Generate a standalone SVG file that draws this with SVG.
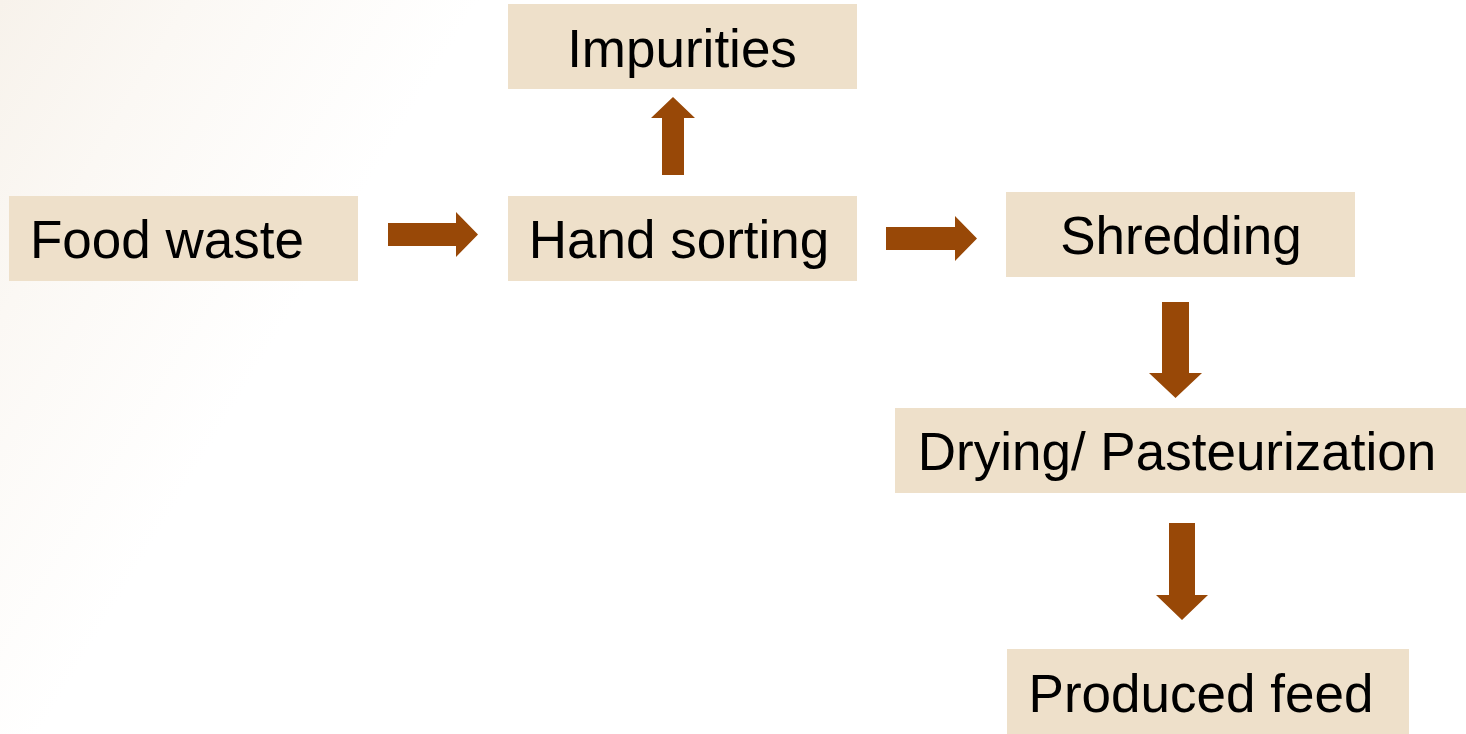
<svg xmlns="http://www.w3.org/2000/svg" width="1466" height="734" viewBox="0 0 1466 734">
  <defs>
    <linearGradient id="bg" x1="0" y1="0" x2="1" y2="0.3">
      <stop offset="0" stop-color="#f7f2eb"/>
      <stop offset="0.12" stop-color="#fbf8f4"/>
      <stop offset="0.3" stop-color="#ffffff"/>
    </linearGradient>
    <style>
      .box { fill: #eee0ca; }
      .lbl { font-family: "Liberation Sans", Arial, sans-serif; font-size: 53px; fill: #000; }
      .arr { fill: #984807; }
    </style>
  </defs>
  <rect x="0" y="0" width="1466" height="734" fill="url(#bg)"/>

  <g id="node-food-waste">
    <rect class="box" x="9" y="196" width="349" height="85"/>
    <text class="lbl" x="30" y="258">Food waste</text>
  </g>
  <g id="node-impurities">
    <rect class="box" x="508" y="4" width="349" height="85"/>
    <text class="lbl" x="682" y="67" text-anchor="middle">Impurities</text>
  </g>
  <g id="node-hand-sorting">
    <rect class="box" x="508" y="196" width="349" height="85"/>
    <text class="lbl" x="679" y="258" text-anchor="middle">Hand sorting</text>
  </g>
  <g id="node-shredding">
    <rect class="box" x="1006" y="192" width="349" height="85"/>
    <text class="lbl" x="1181" y="254" text-anchor="middle">Shredding</text>
  </g>
  <g id="node-drying">
    <rect class="box" x="895" y="408" width="571" height="85"/>
    <text class="lbl" x="1177" y="470" text-anchor="middle">Drying/ Pasteurization</text>
  </g>
  <g id="node-produced-feed">
    <rect class="box" x="1007" y="649" width="402" height="85"/>
    <text class="lbl" x="1201" y="712" text-anchor="middle">Produced feed</text>
  </g>

  <g id="connectors">
    <polygon class="arr" points="388,223 456,223 456,212 478,234.5 456,257 456,246 388,246"/>
    <polygon class="arr" points="886,227 955,227 955,216 977,238.5 955,261 955,250 886,250"/>
    <polygon class="arr" points="662,175 662,118 651,118 673,97 695,118 684,118 684,175"/>
    <polygon class="arr" points="1162,302 1189,302 1189,373 1202,373 1175.5,398 1149,373 1162,373"/>
    <polygon class="arr" points="1169,523 1195,523 1195,595 1208,595 1182,620 1156,595 1169,595"/>
  </g>
</svg>
